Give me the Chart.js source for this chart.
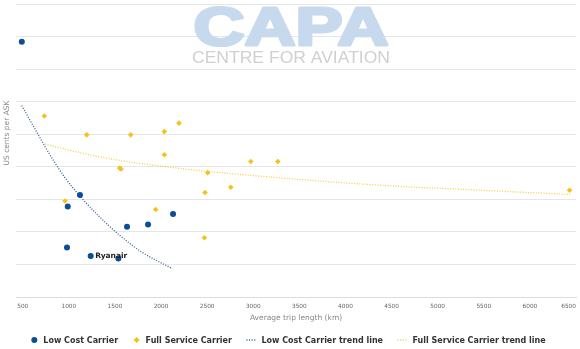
<!DOCTYPE html>
<html>
<head>
<meta charset="utf-8">
<script src="https://cdn.jsdelivr.net/npm/chart.js@4.4.1/dist/chart.umd.min.js"></script>
<style>
  html, body { margin: 0; padding: 0; background: #fff; }
  #wrap { width: 580px; height: 349px; position: relative; }
</style>
</head>
<body>
<div id="wrap"><canvas id="capaChart"></canvas></div>
<script>
// Low cost carriers: trip length (km) vs US cents per ASK
const lccTrip = [490, 1121, 988, 980, 1237, 1537, 1631, 1859, 2130];
const lccCost = [7.84, 3.13, 2.78, 1.52, 1.26, 1.18, 2.16, 2.23, 2.55];
const lccNames = ['', '', '', '', 'Ryanair', '', '', '', ''];

// Full service carriers
const fscTrip = [734, 959, 1194, 1552, 1566, 1671, 1942, 2036, 2036, 2195, 2470, 2477, 2506, 2756, 2973, 3266, 6430];
const fscCost = [5.56, 2.95, 4.98, 3.96, 3.93, 4.98, 2.69, 5.08, 4.37, 5.34, 1.82, 3.21, 3.82, 3.37, 4.16, 4.16, 3.28];

// Trend lines
const lccTrendTrip = [489, 742, 850, 959, 1121, 1320, 1537, 1791, 2116];
const lccTrendCost = [5.88, 4.62, 4.12, 3.66, 3.10, 2.50, 1.93, 1.38, 0.88];
const fscTrendTrip = [742, 1140, 1500, 2000, 2500, 3000, 3500, 4400, 5460, 6440];
const fscTrendCost = [4.70, 4.42, 4.22, 4.02, 3.86, 3.73, 3.61, 3.43, 3.28, 3.15];

const xTickValues = [500, 1000, 1500, 2000, 2500, 3000, 3500, 4000, 4500, 5000, 5500, 6000, 6500];

const BLUE = '#0b4d97';
const GOLD = '#f4c218';
const BLUE_TREND = '#2f5f90';
const GOLD_TREND = '#f1d043';

const toPoints = (xs, ys) => xs.map((x, i) => ({ x: x, y: ys[i] }));

// Dessine filigrane, libellés d'axes, étiquette Ryanair et légende
const decorPlugin = {
    id: 'decor',
    beforeDatasetsDraw(chart) {
        const ctx = chart.ctx;
        ctx.save();
        // CAPA watermark
        ctx.textBaseline = 'alphabetic';
        ctx.textAlign = 'left';
        ctx.font = 'bold 54px "Liberation Sans", Arial, sans-serif';
        let w = ctx.measureText('CAPA').width;
        ctx.translate(193.5, 44.5);
        ctx.scale(195 / w, 1);
        ctx.fillStyle = '#c7d9ec';
        ctx.strokeStyle = '#c7d9ec';
        ctx.lineWidth = 3;
        ctx.lineJoin = 'round';
        ctx.fillText('CAPA', 0, 0);
        ctx.strokeText('CAPA', 0, 0);
        ctx.restore();
        ctx.save();
        ctx.font = '17px "Liberation Sans", Arial, sans-serif';
        w = ctx.measureText('CENTRE FOR AVIATION').width;
        ctx.translate(192, 62.5);
        ctx.scale(198 / w, 1);
        ctx.fillStyle = '#d0d0d0';
        ctx.fillText('CENTRE FOR AVIATION', 0, 0);
        ctx.restore();
    },
    afterDraw(chart) {
        const ctx = chart.ctx;
        const xs = chart.scales.x;
        const area = chart.chartArea;
        ctx.save();

        // x tick labels (last one kept inside the plot)
        ctx.font = '5.8px "DejaVu Sans", Verdana, sans-serif';
        ctx.fillStyle = '#666';
        ctx.textBaseline = 'middle';
        xTickValues.forEach(v => {
            const label = String(v);
            const tw = ctx.measureText(label).width;
            let px = xs.getPixelForValue(v) - tw / 2;
            if (px + tw > area.right) px = area.right - tw;
            ctx.textAlign = 'left';
            ctx.fillText(label, px, 306);
        });

        // axis titles
        ctx.font = '7.5px "DejaVu Sans", Verdana, sans-serif';
        ctx.fillStyle = '#888';
        ctx.textAlign = 'center';
        ctx.fillText('Average trip length (km)', 296, 318);
        ctx.save();
        ctx.translate(7, 133);
        ctx.rotate(-Math.PI / 2);
        ctx.fillText('US cents per ASK', 0, 0);
        ctx.restore();

        // point labels
        const meta = chart.getDatasetMeta(0);
        ctx.font = 'bold 7.5px "DejaVu Sans", Verdana, sans-serif';
        ctx.fillStyle = '#222';
        ctx.textAlign = 'left';
        lccNames.forEach((name, i) => {
            if (!name) return;
            const el = meta.data[i];
            ctx.fillText(name, el.x + 4.5, el.y + 0.5);
        });

        // legend
        const items = chart.data.datasets.map(ds => ({
            text: ds.label,
            color: ds.borderColor,
            kind: ds.showLine ? 'line' : ds.pointStyle,
            box: ds.showLine ? 10 : 8
        }));
        ctx.font = 'bold 8px "DejaVu Sans", Verdana, sans-serif';
        const gap = 5, spacing = 14.5;
        let total = 0;
        items.forEach((it, i) => {
            it.tw = ctx.measureText(it.text).width;
            total += it.box + gap + it.tw + (i ? spacing : 0);
        });
        let cx = 288 - total / 2;
        const ly = 340;
        items.forEach(it => {
            ctx.fillStyle = it.color;
            ctx.strokeStyle = it.color;
            if (it.kind === 'circle') {
                ctx.beginPath();
                ctx.arc(cx + 4, ly, 3, 0, Math.PI * 2);
                ctx.fill();
            } else if (it.kind === 'rectRot') {
                ctx.beginPath();
                ctx.moveTo(cx + 4, ly - 3);
                ctx.lineTo(cx + 7, ly);
                ctx.lineTo(cx + 4, ly + 3);
                ctx.lineTo(cx + 1, ly);
                ctx.closePath();
                ctx.fill();
            } else {
                ctx.lineWidth = 1.3;
                ctx.setLineDash([1, 1.6]);
                ctx.beginPath();
                ctx.moveTo(cx, ly);
                ctx.lineTo(cx + it.box, ly);
                ctx.stroke();
                ctx.setLineDash([]);
            }
            ctx.fillStyle = '#333';
            ctx.textAlign = 'left';
            ctx.fillText(it.text, cx + it.box + gap, ly + 0.5);
            cx += it.box + gap + it.tw + spacing;
        });
        ctx.restore();
    }
};

new Chart(document.getElementById('capaChart').getContext('2d'), {
    type: 'scatter',
    data: {
        datasets: [
            {
                label: 'Low Cost Carrier',
                data: toPoints(lccTrip, lccCost),
                backgroundColor: BLUE,
                borderColor: BLUE,
                pointStyle: 'circle',
                pointRadius: 3,
                pointBorderWidth: 0,
                order: 1
            },
            {
                label: 'Full Service Carrier',
                data: toPoints(fscTrip, fscCost),
                backgroundColor: GOLD,
                borderColor: GOLD,
                pointStyle: 'rectRot',
                pointRadius: 2.8,
                pointBorderWidth: 0,
                order: 2
            },
            {
                label: 'Low Cost Carrier trend line',
                data: toPoints(lccTrendTrip, lccTrendCost),
                showLine: true,
                borderColor: BLUE_TREND,
                borderWidth: 1.3,
                borderDash: [1, 1.6],
                pointRadius: 0,
                cubicInterpolationMode: 'monotone',
                fill: false,
                order: 3
            },
            {
                label: 'Full Service Carrier trend line',
                data: toPoints(fscTrendTrip, fscTrendCost),
                showLine: true,
                borderColor: GOLD_TREND,
                borderWidth: 1.3,
                borderDash: [1, 1.6],
                pointRadius: 0,
                cubicInterpolationMode: 'monotone',
                fill: false,
                order: 4
            }
        ]
    },
    options: {
        responsive: true,
        maintainAspectRatio: false,
        animation: false,
        layout: { padding: { top: 3, right: 4, left: 0, bottom: 0 } },
        plugins: {
            legend: { display: false },
            tooltip: { enabled: false }
        },
        scales: {
            x: {
                type: 'linear',
                min: 427,
                max: 6500,
                grid: { display: false },
                border: { display: true, color: '#d6dee7', width: 1 },
                ticks: { display: false },
                afterBuildTicks: (scale) => { scale.ticks = xTickValues.map(v => ({ value: v })); },
                afterFit: (scale) => { scale.height = 52; scale.paddingLeft = 0; scale.paddingRight = 0; }
            },
            y: {
                min: 0,
                max: 9,
                ticks: { display: false, stepSize: 1 },
                grid: { color: '#e6e6e6', drawTicks: false },
                border: { display: false },
                afterFit: (scale) => { scale.width = 16; }
            }
        }
    },
    plugins: [decorPlugin]
});
</script>
</body>
</html>
